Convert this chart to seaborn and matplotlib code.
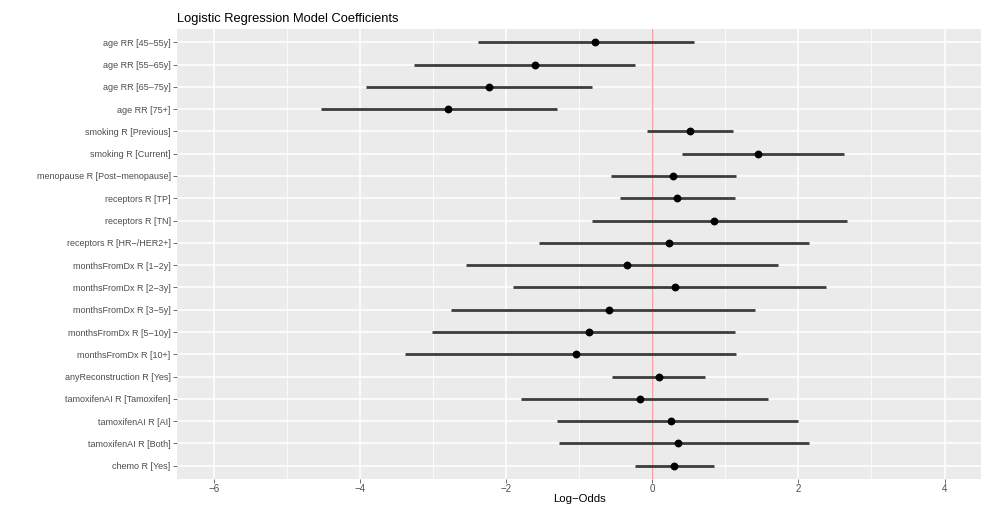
import matplotlib
matplotlib.use('Agg')
import matplotlib.pyplot as plt
import numpy as np
import pandas as pd
import seaborn as sns

TERMS = ['age RR [45\u201355y]', 'age RR [55\u201365y]', 'age RR [65\u201375y]',
    'age RR [75+]', 'smoking R [Previous]', 'smoking R [Current]',
    'menopause R [Post\u2212menopause]', 'receptors R [TP]', 'receptors R [TN]',
    'receptors R [HR\u2212/HER2+]', 'monthsFromDx R [1\u22122y]',
    'monthsFromDx R [2\u22123y]', 'monthsFromDx R [3\u22125y]',
    'monthsFromDx R [5\u221210y]', 'monthsFromDx R [10+]',
    'anyReconstruction R [Yes]', 'tamoxifenAI R [Tamoxifen]',
    'tamoxifenAI R [AI]', 'tamoxifenAI R [Both]', 'chemo R [Yes]']
ESTIMATES = [-0.78, -1.61, -2.23, -2.79, 0.51, 1.45, 0.28, 0.34, 0.85, 0.23,
    -0.34, 0.31, -0.59, -0.86, -1.05, 0.09, -0.17, 0.26, 0.35, 0.30]
CI_LOW = [-2.38, -3.26, -3.92, -4.54, -0.07, 0.41, -0.56, -0.44, -0.82, -1.55,
    -2.55, -1.91, -2.75, -3.01, -3.39, -0.55, -1.79, -1.31, -1.28, -0.24]
CI_HIGH = [0.57, -0.23, -0.82, -1.31, 1.10, 2.62, 1.14, 1.13, 2.66, 2.15,
    1.72, 2.38, 1.40, 1.13, 1.14, 0.72, 1.59, 2.00, 2.14, 0.85]
X_MAJOR = [-6, -4, -2, 0, 2, 4]
X_MINOR = [-5, -3, -1, 1, 3]

df = pd.DataFrame({'term': TERMS, 'estimate': ESTIMATES,
    'lo': CI_LOW, 'hi': CI_HIGH})
df['pos'] = np.arange(len(df))

sns.set_theme(style='darkgrid', rc={'axes.facecolor': '#ebebeb',
    'grid.color': 'white', 'axes.edgecolor': '#ebebeb'})
plt.rcParams['font.family'] = ['Liberation Sans', 'DejaVu Sans']

fig = plt.figure(figsize=(9.96, 5.07), dpi=100)
ax = fig.add_axes([0.178, 0.055, 0.807, 0.888])

# zero reference line, then ranges, then points on top
ax.axvline(0, color='#f4a0a0', lw=1.0, zorder=2)
ax.hlines(y=df['pos'], xmin=df['lo'], xmax=df['hi'],
    color='#3c3c3c', lw=2.0, zorder=3)
sns.scatterplot(data=df, x='estimate', y='pos', color='black', s=32,
    edgecolor='black', linewidth=0, ax=ax, zorder=4)

ax.set_xlim(-6.5, 4.5)
ax.set_ylim(len(df) - 0.4, -0.6)
ax.set_yticks(df['pos'])
ax.set_yticklabels(df['term'])
ax.set_xticks(X_MAJOR)
ax.set_xticklabels([str(v).replace('-', '\u2212') for v in X_MAJOR])
ax.set_xticks(X_MINOR, minor=True)
ax.grid(which='major', color='white', lw=1.1)
ax.grid(which='minor', axis='x', color='white', lw=0.55)
for s in ax.spines.values():
    s.set_visible(False)

ax.tick_params(axis='both', which='major', labelsize=6.5, labelcolor='#4d4d4d',
    color='#333333', length=2.75, width=0.5, pad=2, bottom=True, left=True)
ax.tick_params(axis='x', which='major', labelsize=7, pad=1)
ax.tick_params(axis='x', which='minor', length=0, bottom=False)

ax.set_ylabel('')
ax.set_xlabel('Log\u2212Odds', fontsize=8.2, color='black', labelpad=0)
ax.set_title('Logistic Regression Model Coefficients', loc='left',
    fontsize=9.3, color='black', pad=5)

fig.savefig('out.png', dpi=100)
